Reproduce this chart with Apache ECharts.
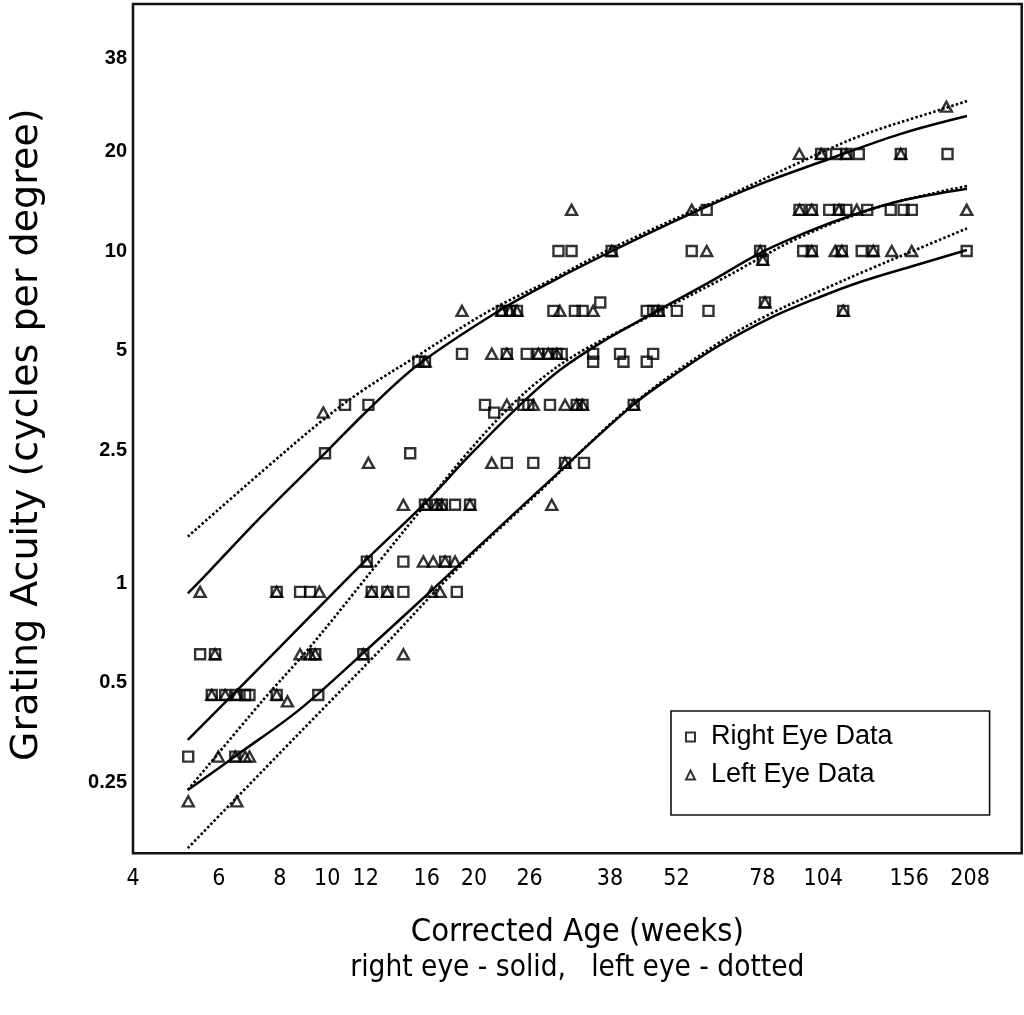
<!DOCTYPE html>
<html>
<head>
<meta charset="utf-8">
<script src="https://cdn.jsdelivr.net/npm/echarts@6/dist/echarts.min.js"></script>
<style>
html,body{margin:0;padding:0;background:#fff;}
#chart{width:1024px;height:1015px;}
</style>
</head>
<body>
<div id="chart"></div>
<script>
// ---- tick labels ----
const xTickValues = [4, 6, 8, 10, 12, 16, 20, 26, 38, 52, 78, 104, 156, 208];
const yTickValues = [0.25, 0.5, 1, 2.5, 5, 10, 20, 38];

// ---- right eye data (weeks, cycles/degree) ----
const rightEyeData = [
  [103, 19.6], [110.5, 19.6], [116, 19.6], [123, 19.6], [150, 19.6], [187, 19.6],
  [60, 13.3], [93, 13.3], [98.5, 13.3], [107, 13.3], [112, 13.3], [116, 13.3], [128, 13.3], [143, 13.3], [152, 13.3], [158, 13.3],
  [29.8, 10], [31.7, 10], [38.3, 10], [55.9, 10], [77.2, 10], [94.6, 10], [98.5, 10], [113.5, 10], [124.7, 10], [131.7, 10], [204.7, 10],
  [78.2, 9.4], [36.3, 7.0], [79, 7.0],
  [22.8, 6.6], [23.7, 6.6], [24.5, 6.6], [29.1, 6.6], [32.2, 6.6], [33.4, 6.6], [45.2, 6.6], [46.6, 6.6], [47.8, 6.6], [52.1, 6.6], [60.5, 6.6], [114.3, 6.6],
  [18.9, 4.9], [23.35, 4.9], [25.65, 4.9], [27.1, 4.9], [28.4, 4.9], [29.55, 4.9], [30.26, 4.9], [35.1, 4.9], [39.85, 4.9], [46.6, 4.9],
  [15.38, 4.64], [15.87, 4.64], [35.1, 4.64], [40.5, 4.64], [45.2, 4.64],
  [10.88, 3.44], [12.15, 3.44], [21.07, 3.44], [25.25, 3.44], [25.85, 3.44], [28.63, 3.44], [32.48, 3.44], [33.38, 3.44], [42.5, 3.44],
  [22.0, 3.26],
  [9.9, 2.46], [14.8, 2.46],
  [23.35, 2.3], [26.46, 2.3], [30.74, 2.3], [33.62, 2.3],
  [15.87, 1.72], [16.78, 1.72], [17.18, 1.72], [18.29, 1.72], [19.63, 1.72],
  [12.06, 1.16], [14.33, 1.16], [17.45, 1.16],
  [7.88, 0.94], [8.8, 0.94], [9.23, 0.94], [12.34, 0.94], [13.29, 0.94], [14.33, 0.94], [18.44, 0.94],
  [5.49, 0.61], [5.89, 0.61], [9.45, 0.61], [11.86, 0.61],
  [5.8, 0.46], [6.18, 0.46], [6.53, 0.46], [6.79, 0.46], [6.93, 0.46], [7.88, 0.46], [9.59, 0.46],
  [5.19, 0.30], [6.48, 0.30]
];

// ---- left eye data (weeks, cycles/degree) ----
const leftEyeData = [
  [186, 27.2],
  [92.9, 19.6], [103, 19.6], [116, 19.6], [150, 19.6],
  [31.7, 13.3], [55.9, 13.3], [93, 13.3], [98.5, 13.3], [112, 13.3], [121.8, 13.3], [204.7, 13.3],
  [38.3, 10], [60, 10], [77.2, 10], [98.5, 10], [110, 10], [113.5, 10], [131.7, 10], [143.7, 10], [157.9, 10],
  [78.2, 9.4], [79, 7.0],
  [18.9, 6.6], [22.8, 6.6], [23.7, 6.6], [24.5, 6.6], [30.0, 6.6], [35.1, 6.6], [47.8, 6.6], [114.3, 6.6],
  [21.75, 4.9], [23.35, 4.9], [27.1, 4.9], [28.4, 4.9], [29.55, 4.9],
  [15.87, 4.64],
  [23.35, 3.44], [26.46, 3.44], [30.74, 3.44], [32.48, 3.44], [33.38, 3.44], [42.5, 3.44],
  [9.82, 3.26],
  [12.15, 2.3], [21.75, 2.3], [30.74, 2.3],
  [14.33, 1.72], [15.87, 1.72], [16.78, 1.72], [17.18, 1.72], [19.63, 1.72], [28.87, 1.72],
  [12.06, 1.16], [15.75, 1.16], [16.5, 1.16], [17.45, 1.16], [18.29, 1.16],
  [5.49, 0.94], [7.88, 0.94], [9.64, 0.94], [12.34, 0.94], [13.29, 0.94], [16.39, 0.94], [17.04, 0.94],
  [5.89, 0.61], [8.8, 0.61], [9.23, 0.61], [9.45, 0.61], [11.86, 0.61], [14.33, 0.61],
  [5.8, 0.46], [6.18, 0.46], [6.53, 0.46], [7.88, 0.46], [8.29, 0.44],
  [5.98, 0.30], [6.48, 0.30], [6.79, 0.30], [6.93, 0.30],
  [5.19, 0.22], [6.53, 0.22]
];

// ---- fitted curves: right eye (solid) ----
const rightUpperCurve = [[5.18,0.93],[5.75,1.09],[7.28,1.57],[9.9,2.46],[12.13,3.32],[15.36,4.54],[22.3,6.55],[29.0,8.12],[38.4,10.0],[56.0,13.0],[77.2,15.9],[102.4,18.5],[149.4,22.5],[205,25.5]];
const rightMeanCurve = [[5.18,0.337],[8.01,0.642],[11.85,1.15],[15.87,1.74],[19.63,2.43],[24.86,3.44],[30.0,4.38],[36.3,5.28],[45.9,6.42],[60.9,8.07],[77.2,9.86],[97.7,11.5],[118,12.75],[149.4,14.15],[205,15.4]];
const rightLowerCurve = [[5.18,0.238],[6.63,0.308],[8.8,0.417],[11.85,0.615],[16.25,0.94],[18.1,1.09],[27.3,1.91],[42.4,3.44],[52.9,4.35],[63.9,5.21],[80.9,6.28],[102.4,7.27],[125.5,8.12],[164,9.14],[205,10.07]];

// ---- fitted curves: left eye (dotted) ----
const leftUpperCurve = [[5.18,1.38],[7.39,2.18],[9.81,3.10],[11.85,3.81],[15.3,4.83],[21.3,6.55],[29.0,8.23],[38.4,10.2],[55.5,13.1],[63.9,14.3],[93.2,18.5],[123.7,22.2],[183,26.8],[205,28.3]];
const leftMeanCurve = [[5.18,0.238],[7.39,0.444],[9.23,0.642],[12.84,1.17],[15.72,1.69],[19.0,2.38],[23.0,3.25],[27.3,4.09],[33.0,4.96],[45.9,6.37],[63.9,8.18],[93.2,11.0],[136,13.6],[205,15.7]];
const leftLowerCurve = [[5.18,0.159],[8.01,0.308],[12.84,0.628],[18.1,1.07],[27.3,1.89],[42.4,3.46],[63.9,5.32],[80.9,6.46],[102.4,7.58],[129.7,8.83],[164,10.2],[205,11.7]];

const COND = "'DejaVu Sans Condensed','Liberation Sans Narrow',sans-serif";
const WIDE = "'DejaVu Sans',sans-serif";
const SANS = "'Liberation Sans',Arial,Helvetica,sans-serif";

function fmt(v) { return String(+(+v).toPrecision(6)); }

function curve(name, data, dotted) {
  return {
    name: name, type: 'line', data: data, symbol: 'none', smooth: 0.35,
    silent: true, z: 2,
    lineStyle: dotted ? { color: '#000', width: 2.6, type: [2.5, 2.2] } : { color: '#000', width: 2.5, type: 'solid' }
  };
}

const chart = echarts.init(document.getElementById('chart'), null, { renderer: 'canvas' });
const option = {
  animation: false,
  backgroundColor: '#fff',
  grid: {
    left: 133, top: 4, width: 888.7, height: 849.3,
    show: true, borderColor: '#111', borderWidth: 2.5, backgroundColor: 'transparent',
    containLabel: false, outerBoundsMode: 'none'
  },
  xAxis: {
    type: 'log', logBase: 10, min: 3.999, max: 265.4,
    axisLine: { show: false }, axisTick: { show: false },
    splitLine: { show: false }, minorTick: { show: false }, minorSplitLine: { show: false },
    axisLabel: {
      customValues: xTickValues, formatter: fmt, margin: 14, hideOverlap: false,
      fontFamily: COND, fontSize: 23, color: '#000'
    },
    name: '{a|Corrected Age (weeks)}\n{b|right eye - solid,   left eye - dotted}',
    nameLocation: 'middle', nameGap: 61,
    nameTextStyle: {
      color: '#000',
      rich: {
        a: { fontFamily: COND, fontSize: 32.5, lineHeight: 36, color: '#000' },
        b: { fontFamily: COND, fontSize: 29.5, lineHeight: 36, color: '#000' }
      }
    }
  },
  yAxis: {
    type: 'log', logBase: 10, min: 0.1534, max: 55.46,
    axisLine: { show: false }, axisTick: { show: false },
    splitLine: { show: false }, minorTick: { show: false }, minorSplitLine: { show: false },
    axisLabel: {
      customValues: yTickValues, formatter: fmt, margin: 6, hideOverlap: false,
      fontFamily: SANS, fontWeight: 'bold', fontSize: 20, color: '#000'
    },
    name: 'Grating Acuity (cycles per degree)',
    nameLocation: 'middle', nameGap: 87,
    nameTextStyle: { fontFamily: WIDE, fontSize: 38, color: '#000', padding: [0, 12, 0, 0] }
  },
  legend: {
    data: ['Right Eye Data', 'Left Eye Data'],
    orient: 'vertical', left: 671, top: 711,
    itemWidth: 9, itemHeight: 9, itemGap: 10,
    padding: [12, 97, 26, 14],
    borderColor: '#111', borderWidth: 1.6, backgroundColor: '#fff',
    textStyle: { fontFamily: SANS, fontSize: 27, lineHeight: 28, color: '#000', padding: [0, 0, 0, 11] },
    selectedMode: false
  },
  series: [
    curve('rightUpper', rightUpperCurve, false),
    curve('rightMean', rightMeanCurve, false),
    curve('rightLower', rightLowerCurve, false),
    curve('leftUpper', leftUpperCurve, true),
    curve('leftMean', leftMeanCurve, true),
    curve('leftLower', leftLowerCurve, true),
    {
      name: 'Right Eye Data', type: 'scatter', data: rightEyeData,
      symbol: 'rect', symbolSize: 10, z: 4,
      itemStyle: { color: 'rgba(255,255,255,0)', borderColor: '#000', borderWidth: 2.4 }
    },
    {
      name: 'Left Eye Data', type: 'scatter', data: leftEyeData,
      symbol: 'triangle', symbolSize: [11, 10], z: 4,
      itemStyle: { color: 'rgba(255,255,255,0)', borderColor: '#000', borderWidth: 2.4 }
    }
  ]
};
chart.setOption(option);
</script>
</body>
</html>
